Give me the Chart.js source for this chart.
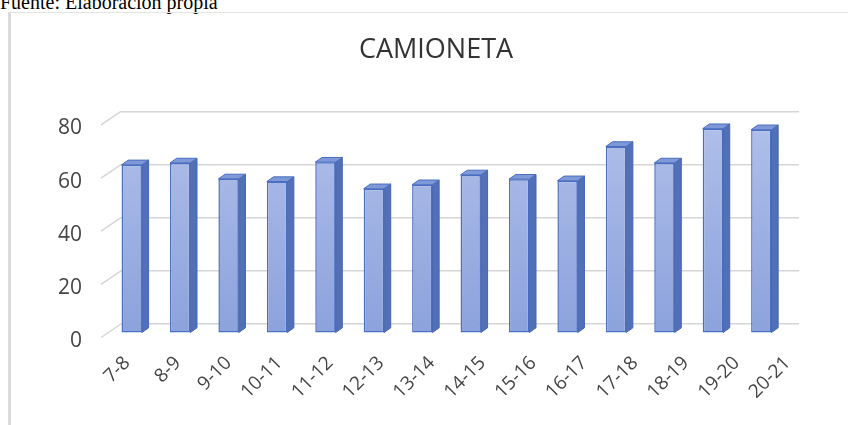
<!DOCTYPE html>
<html>
<head>
<meta charset="utf-8">
<script src="https://cdn.jsdelivr.net/npm/chart.js@4.4.1/dist/chart.umd.min.js"></script>
<style>
  html, body { margin: 0; padding: 0; background: #ffffff; }
  body { width: 848px; height: 425px; position: relative; overflow: hidden; }
  #source { position: absolute; left: 0; top: -8px; font: 20px/20px "Liberation Serif", "Times New Roman", serif; color: #000; white-space: nowrap; }
  #frame { position: absolute; left: 8px; top: 12px; width: 840px; height: 413px; border-top: 1px solid #e4e4e4; border-left: 3px solid #dadada; box-sizing: border-box; }
  #chart { position: absolute; left: 0; top: 0; }
</style>
</head>
<body>
<div id="source">Fuente: Elaboración propia</div>
<div id="frame"></div>
<canvas id="chart" width="848" height="425"></canvas>
<script>
const chartTitle = "CAMIONETA";
const categories = ["7-8", "8-9", "9-10", "10-11", "11-12", "12-13", "13-14", "14-15", "15-16", "16-17", "17-18", "18-19", "19-20", "20-21"];
const camioneta = [63.4, 64.1, 58.1, 57.1, 64.4, 54.4, 55.9, 59.6, 58.0, 57.4, 70.3, 64.1, 77.0, 76.6];
const yTicks = [0, 20, 40, 60, 80];

// 3D look (styling only)
const FRONT_SHIFT_X = -13.5, FRONT_SHIFT_Y = 9.3;   // bars stand in front of the back wall
const DEPTH_X = 6.7, DEPTH_Y = 4.7;                 // bar depth
const WALL_X = -20, WALL_Y = 13.5;                  // side wall floor edge
const GRID = '#d6d6d6';
const FONT = "'Open Sans', sans-serif";
const TEXT = '#454545';

const bar3d = {
  id: 'bar3d',
  beforeDatasetsDraw(chart) {
    const ctx = chart.ctx, area = chart.chartArea, ys = chart.scales.y;
    ctx.save();
    ctx.strokeStyle = GRID; ctx.lineWidth = 1.5;
    yTicks.forEach(v => {
      const py = ys.getPixelForValue(v);
      ctx.beginPath(); ctx.moveTo(area.left, py); ctx.lineTo(area.left + WALL_X, py + WALL_Y); ctx.stroke();
    });
    ctx.restore();
    ctx.save();
    ctx.translate(FRONT_SHIFT_X, FRONT_SHIFT_Y);
  },
  afterDatasetsDraw(chart) {
    const ctx = chart.ctx;
    chart.getDatasetMeta(0).data.forEach(bar => {
      const p = bar.getProps(['x', 'y', 'base', 'width'], true);
      const l = p.x - p.width / 2, r = p.x + p.width / 2;
      ctx.lineJoin = 'round';
      ctx.beginPath();
      ctx.moveTo(r, p.y); ctx.lineTo(r + DEPTH_X, p.y - DEPTH_Y);
      ctx.lineTo(r + DEPTH_X, p.base - DEPTH_Y); ctx.lineTo(r, p.base); ctx.closePath();
      ctx.fillStyle = '#5270b8'; ctx.fill();
      ctx.strokeStyle = '#4866b0'; ctx.lineWidth = 1; ctx.stroke();
      ctx.beginPath();
      ctx.moveTo(l, p.y); ctx.lineTo(l + DEPTH_X, p.y - DEPTH_Y);
      ctx.lineTo(r + DEPTH_X, p.y - DEPTH_Y); ctx.lineTo(r, p.y); ctx.closePath();
      ctx.fillStyle = '#7f98d8'; ctx.fill();
      ctx.strokeStyle = '#4a6cc0'; ctx.stroke();
    });
    ctx.restore();
  }
};

function frontGradient(context) {
  const chart = context.chart, area = chart.chartArea;
  if (!area) return '#9cb0e2';
  const g = chart.ctx.createLinearGradient(0, area.top, 0, area.bottom);
  g.addColorStop(0, '#b0bfea');
  g.addColorStop(1, '#8ca2dc');
  return g;
}

new Chart(document.getElementById('chart'), {
  type: 'bar',
  data: {
    labels: categories,
    datasets: [{
      label: chartTitle,
      data: camioneta,
      backgroundColor: frontGradient,
      borderColor: '#4a70c4',
      borderWidth: 1.5,
      borderSkipped: false,
      barPercentage: 0.42,
      categoryPercentage: 1.0,
      clip: false
    }]
  },
  options: {
    responsive: false,
    animation: false,
    events: [],
    layout: { padding: { left: 55, right: 31, top: 0, bottom: 0 } },
    plugins: {
      legend: { display: false },
      tooltip: { enabled: false },
      title: {
        display: true,
        text: chartTitle,
        color: '#333333',
        font: { family: FONT, size: 27, weight: 'normal' },
        padding: { top: 34, bottom: 45 }
      }
    },
    scales: {
      x: { display: false },
      // floor-edge label axis (front edge is a little wider than the back wall in the 3D view)
      xl: {
        type: 'linear',
        position: 'bottom',
        offset: false,
        min: -0.118, max: 13.228,
        grid: { display: false, drawTicks: false, offset: false },
        border: { display: false },
        afterBuildTicks(scale) { scale.ticks = categories.map((c, i) => ({ value: i })); },
        ticks: {
          color: TEXT,
          font: { family: FONT, size: 19 },
          minRotation: 45, maxRotation: 45,
          padding: 28,
          autoSkip: false,
          callback: (v) => categories[v]
        },
        afterFit(scale) { scale.height = 101; }
      },
      y: {
        min: 0, max: 80,
        grid: { color: GRID, lineWidth: 1.5, drawTicks: false },
        border: { display: false },
        afterBuildTicks(scale) { scale.ticks = yTicks.map(v => ({ value: v })); },
        ticks: {
          color: TEXT,
          font: { family: FONT, size: 21 },
          padding: 39,
          labelOffset: 17
        },
        afterFit(scale) { scale.width = 66; }
      },
      yr: {
        type: 'linear',
        position: 'right',
        offset: false,
        min: 0, max: 80,
        grid: { display: false, drawTicks: false },
        border: { display: false },
        ticks: { display: false },
        afterFit(scale) { scale.width = 18; }
      }
    }
  },
  plugins: [bar3d]
});
</script>
</body>
</html>
